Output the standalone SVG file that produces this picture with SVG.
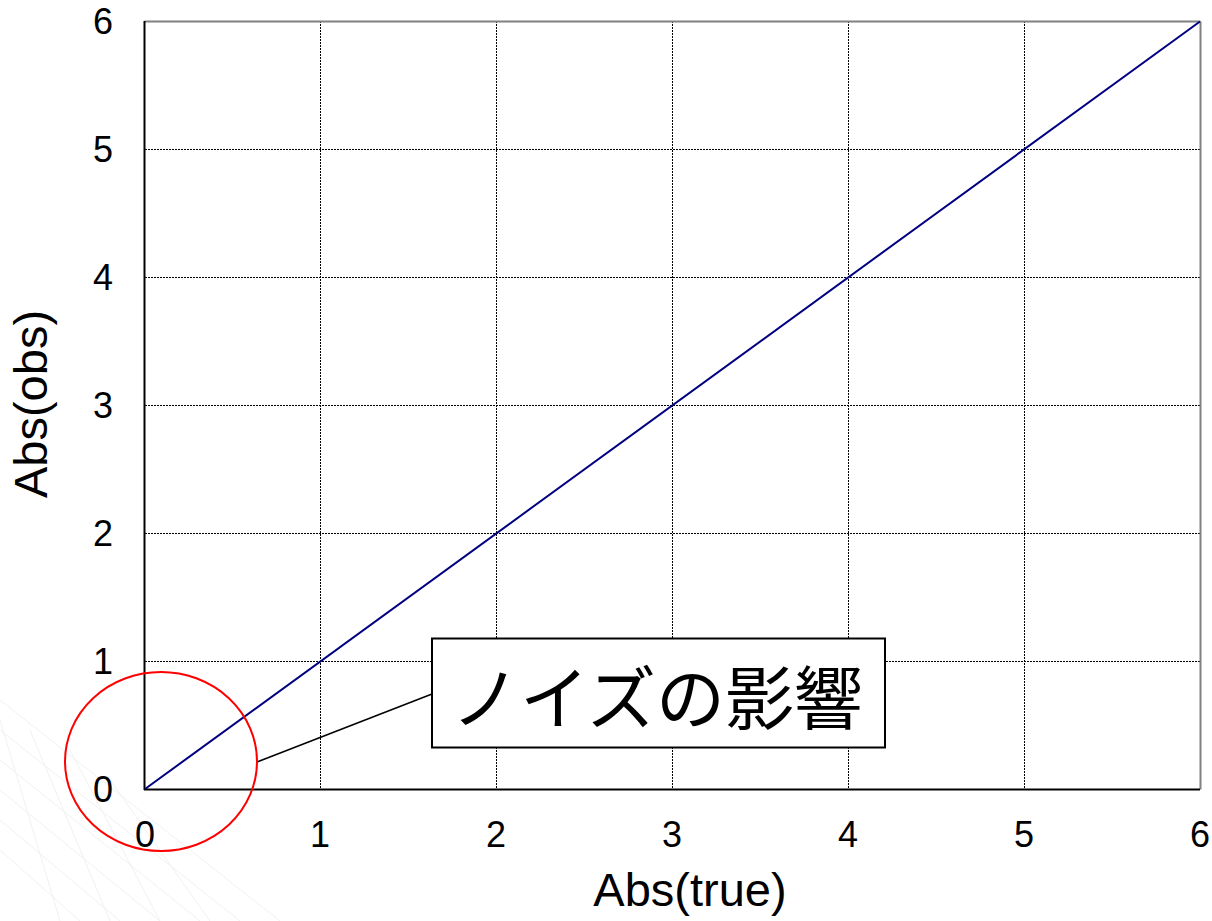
<svg xmlns="http://www.w3.org/2000/svg" width="1212" height="921" viewBox="0 0 1212 921">
<defs>
<style>
.grid{stroke:#000;stroke-width:1;stroke-dasharray:2 1;fill:none}
.ytk{font-family:"Liberation Sans",Arial,sans-serif;font-size:36px;fill:#000;text-anchor:end}
.xtk{font-family:"Liberation Sans",Arial,sans-serif;font-size:36px;fill:#000;text-anchor:middle}
.title{font-family:"Liberation Sans",Arial,sans-serif;font-size:47px;fill:#000;text-anchor:middle}
</style>
</defs>
<rect width="1212" height="921" fill="#fff"/>
<g id="watermark" stroke="#eeeeee" stroke-width="1" fill="none" opacity="0.8">
<path d="M0 700 L280 921 M0 730 L240 921 M0 760 L200 921 M0 790 L160 921 M0 820 L120 921 M0 850 L80 921"/>
<path d="M0 720 L60 921 M30 730 L110 921 M70 750 L160 921 M110 780 L210 921"/>
</g>
<g id="plot">
<g class="grid">
<line x1="320.5" y1="21" x2="320.5" y2="789"/>
<line x1="496.5" y1="21" x2="496.5" y2="789"/>
<line x1="672.5" y1="21" x2="672.5" y2="789"/>
<line x1="848.5" y1="21" x2="848.5" y2="789"/>
<line x1="1024.5" y1="21" x2="1024.5" y2="789"/>
<line x1="145" y1="149.5" x2="1200" y2="149.5"/>
<line x1="145" y1="277.5" x2="1200" y2="277.5"/>
<line x1="145" y1="405.5" x2="1200" y2="405.5"/>
<line x1="145" y1="533.5" x2="1200" y2="533.5"/>
<line x1="145" y1="661.5" x2="1200" y2="661.5"/>
</g>
<line x1="144.5" y1="21.5" x2="1200.5" y2="21.5" stroke="#808080" stroke-width="2"/>
<line x1="1200.5" y1="21.5" x2="1200.5" y2="789.5" stroke="#808080" stroke-width="2"/>
<line x1="144.5" y1="21" x2="144.5" y2="790" stroke="#000" stroke-width="2"/>
<line x1="144" y1="789.5" x2="1200" y2="789.5" stroke="#000" stroke-width="2"/>
<line x1="145" y1="789" x2="1200" y2="21.5" stroke="#000080" stroke-width="2"/>
</g>
<g id="yticks">
<text class="ytk" x="113" y="802">0</text>
<text class="ytk" x="113" y="674">1</text>
<text class="ytk" x="113" y="546">2</text>
<text class="ytk" x="113" y="418">3</text>
<text class="ytk" x="113" y="290">4</text>
<text class="ytk" x="113" y="162">5</text>
<text class="ytk" x="113" y="34">6</text>
</g>
<g id="xticks">
<text class="xtk" x="145" y="847">0</text>
<text class="xtk" x="320" y="847">1</text>
<text class="xtk" x="496" y="847">2</text>
<text class="xtk" x="672" y="847">3</text>
<text class="xtk" x="848" y="847">4</text>
<text class="xtk" x="1024" y="847">5</text>
<text class="xtk" x="1200" y="847">6</text>
</g>
<text id="xtitle" class="title" x="690" y="906">Abs(true)</text>
<text id="ytitle" class="title" transform="translate(47 404) rotate(-90)">Abs(obs)</text>
<g id="connectors">
<line x1="257" y1="762" x2="432" y2="694" stroke="#000" stroke-width="1.5"/>
</g>
<g id="circle">
<ellipse cx="161" cy="761.5" rx="96" ry="89.5" fill="none" stroke="#ff0000" stroke-width="2"/>
</g>
<g id="callout">
<rect x="432" y="638.5" width="453" height="109" fill="#fff" stroke="#000" stroke-width="2"/>
<text x="657" y="724" text-anchor="middle" font-family="'Noto Sans CJK JP',sans-serif" font-size="69">ノイズの影響</text>
</g>
</svg>
